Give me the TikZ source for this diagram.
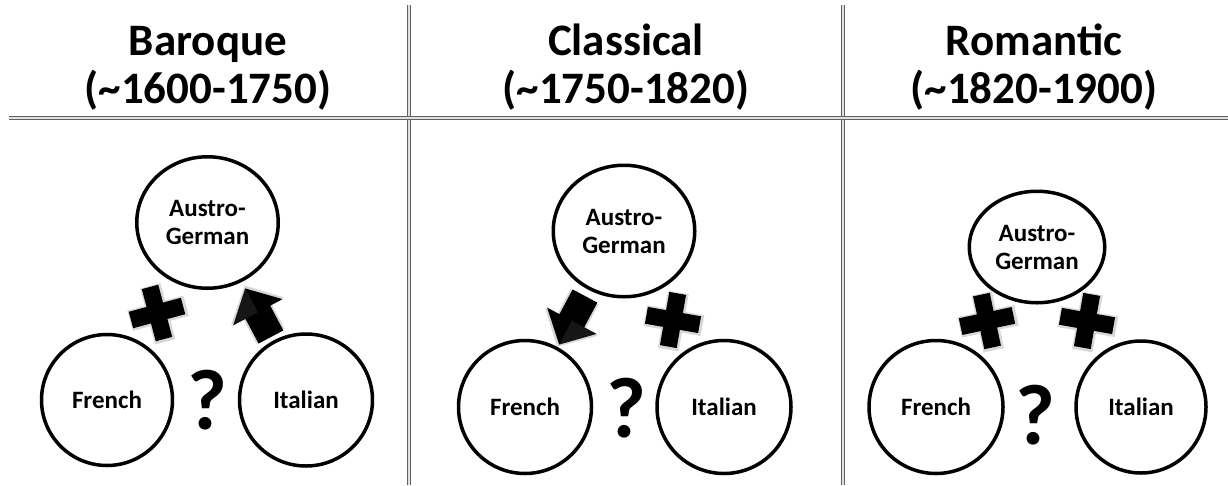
\documentclass[tikz,border=0pt]{standalone}
\usepackage{fontspec}
\setmainfont{Carlito}
\usetikzlibrary{shapes.geometric}
\begin{document}
\begin{tikzpicture}[x=1pt,y=-1pt,
  rule/.style={draw=black!62, line width=1.7pt, double=black!12, double distance=1.3pt},
  hdr/.style={font=\fontsize{45}{48}\selectfont\bfseries, anchor=base, inner sep=0pt},
  region/.style={ellipse, draw=black, line width=3.5pt, inner sep=0pt, fill=white,
    font=\fontsize{25}{28}\selectfont\bfseries, align=center},
  qmark/.style={font=\fontsize{86}{86}\selectfont\bfseries, inner sep=0pt},
  plusmark/.pic={
    \fill[black!50, opacity=0.3] (-28,-10) rectangle (30,11) (-10,-28) rectangle (11,30);
    \fill[black] (-27,-8.5) rectangle (27,8.5) (-8.5,-27) rectangle (8.5,27);
  },
  blockarrow/.pic={
    \fill[black!50, opacity=0.3] (1,-16) -- (29,-16) -- (29,-30) -- (58,1) -- (29,30) -- (29,16) -- (1,16) -- cycle;
    \fill[black] (0,-14) -- (28,-14) -- (28,-28) -- (55,0) -- (28,28) -- (28,14) -- (0,14) -- cycle;
    \fill[black!40, opacity=0.15] (28,-28) -- (55,0) -- (28,0) -- cycle;
  }
]
\fill[white] (0,0) rectangle (1228,485);
\useasboundingbox (0,0) rectangle (1228,485);

% rules
\coordinate (hL) at (9,118);
\coordinate (hR) at (1228,118);
\coordinate (v1t) at (409,5);
\coordinate (v1b) at (409,485);
\coordinate (v2t) at (843,5);
\coordinate (v2b) at (843,485);
\draw[rule] (v1t) -- (v1b);
\draw[rule] (v2t) -- (v2b);
\draw[rule] (hL) -- (hR);

% headers
\node[hdr] (h1) at (208,55) {Baroque};
\node[hdr] (d1) at (208,103) {(\textasciitilde1600-1750)};
\node[hdr] (h2) at (626,55) {Classical};
\node[hdr] (d2) at (626,103) {(\textasciitilde1750-1820)};
\node[hdr] (h3) at (1034,55) {Romantic};
\node[hdr] (d3) at (1034,103) {(\textasciitilde1820-1900)};

% panel 1
\node[region, minimum width=141.5pt, minimum height=131.5pt] (ag1) at (207.5,222.5) {Austro-\\German};
\node[region, minimum width=131pt, minimum height=131pt] (fr1) at (107,400) {French};
\node[region, minimum width=133pt, minimum height=132pt] (it1) at (306,400) {Italian};
\node[qmark] (q1) at (207,400) {?};
\pic[rotate=15] at (157,313) {plusmark};
\pic[rotate=118] at (271,337) {blockarrow};

% panel 2
\node[region, minimum width=141.5pt, minimum height=131.5pt] (ag2) at (624,231) {Austro-\\German};
\node[region, minimum width=133pt, minimum height=133pt] (fr2) at (525,407) {French};
\node[region, minimum width=134pt, minimum height=133pt] (it2) at (724,407) {Italian};
\node[qmark] (q2) at (626,408) {?};
\pic[rotate=-10] at (673,320) {plusmark};
\pic[rotate=242] at (585,296) {blockarrow};

% panel 3
\node[region, minimum width=135.5pt, minimum height=111.5pt] (ag3) at (1037,247) {Austro-\\German};
\node[region, minimum width=134pt, minimum height=133pt] (fr3) at (936,407) {French};
\node[region, minimum width=130pt, minimum height=132pt] (it3) at (1141,407) {Italian};
\node[qmark] (q3) at (1035,415) {?};
\pic[rotate=12] at (987,321) {plusmark};
\pic[rotate=-10] at (1087,321) {plusmark};
\end{tikzpicture}
\end{document}
